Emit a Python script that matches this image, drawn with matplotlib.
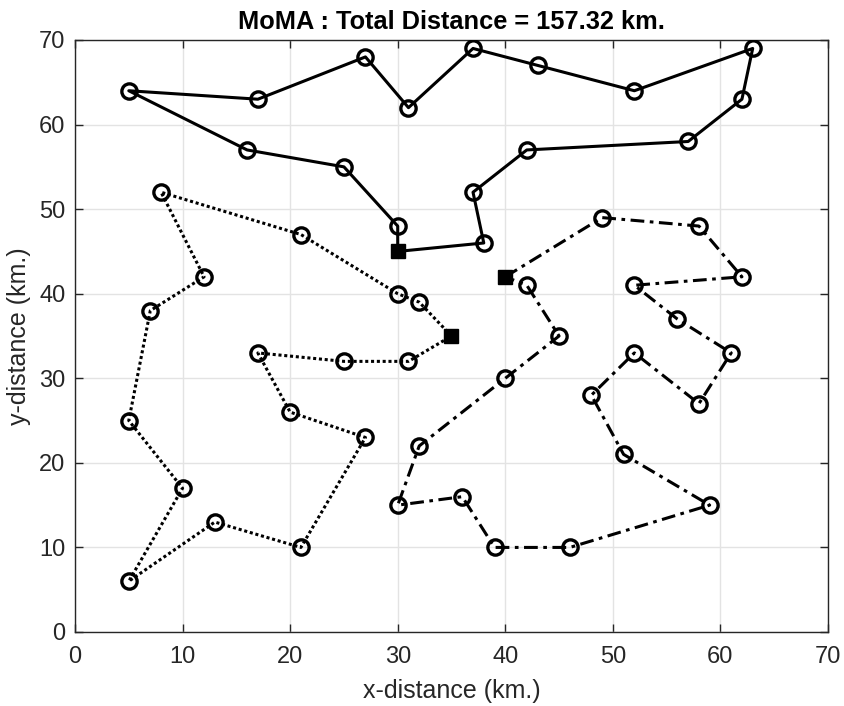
import matplotlib
matplotlib.use("Agg")
import matplotlib.pyplot as plt

plt.rcParams['font.family'] = ['Liberation Sans', 'DejaVu Sans']

# Route 1 (solid), depot first and last
r1_x = [30, 38, 37, 42, 57, 62, 63, 52, 43, 37, 31, 27, 17, 5, 16, 25, 30, 30]
r1_y = [45, 46, 52, 57, 58, 63, 69, 64, 67, 69, 62, 68, 63, 64, 57, 55, 48, 45]

# Route 2 (dotted)
r2_x = [35, 32, 30, 21, 8, 12, 7, 5, 10, 5, 13, 21, 27, 20, 17, 25, 31, 35]
r2_y = [35, 39, 40, 47, 52, 42, 38, 25, 17, 6, 13, 10, 23, 26, 33, 32, 32, 35]

# Route 3 (dash-dot)
r3_x = [40, 49, 58, 62, 52, 56, 61, 58, 52, 48, 51, 59, 46, 39, 36, 30, 32, 40, 45, 42, 40]
r3_y = [42, 49, 48, 42, 41, 37, 33, 27, 33, 28, 21, 15, 10, 10, 16, 15, 22, 30, 35, 41, 42]

depot_x = [30, 35, 40]
depot_y = [45, 35, 42]

title = "MoMA : Total Distance = 157.32 km."

fig = plt.figure(figsize=(8.45, 7.06), dpi=100)
ax = fig.add_axes([75/845, 1 - 632/706, (828-75)/845, (632-40)/706])

routes = [(r1_x, r1_y, '-'), (r2_x, r2_y, (0, (1, 0.9))), (r3_x, r3_y, (0, (4.5, 1.8, 1.2, 1.8)))]
for xs, ys, ls in routes:
    ax.plot(xs, ys, color='black', linestyle=ls, lw=2.2, zorder=2)
    ax.plot(xs[1:-1], ys[1:-1], linestyle='none', marker='o', ms=11, mfc='none',
            mec='black', mew=2.4, zorder=3)

ax.plot(depot_x, depot_y, linestyle='none', marker='s', ms=10, color='black', zorder=4)

ax.set_xlim(0, 70)
ax.set_ylim(0, 70)
ax.set_xticks(range(0, 71, 10))
ax.set_yticks(range(0, 71, 10))
ax.grid(True, color='#e3e3e3', lw=1.0)
ax.set_axisbelow(True)
ax.tick_params(direction='in', length=6, width=1, labelsize=17, top=True, right=True,
               labeltop=False, labelright=False, colors='#262626')
ax.tick_params(axis='x', pad=10)
ax.tick_params(axis='y', pad=7)
for s in ax.spines.values():
    s.set_color('#262626')
    s.set_linewidth(1.0)
ax.set_xlabel('x-distance (km.)', fontsize=18, color='#262626', labelpad=8)
ax.set_ylabel('y-distance (km.)', fontsize=18, color='#262626', labelpad=6)
ax.set_title(title, fontsize=18.3, fontweight='bold', pad=8)

fig.savefig('out.png', dpi=100)
